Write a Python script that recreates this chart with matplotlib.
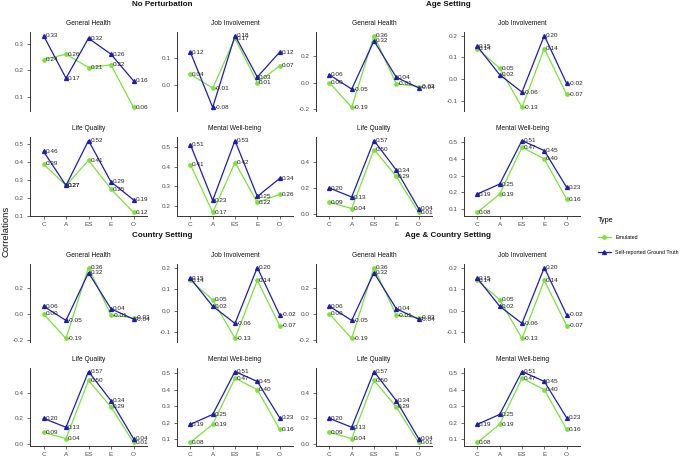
import matplotlib
matplotlib.use('Agg')
import matplotlib.pyplot as plt

plt.rcParams['font.family'] = ['Liberation Sans', 'DejaVu Sans']

traits = ['C', 'A', 'ES', 'E', 'O']
groups = ['No Perturbation', 'Age Setting', 'Country Setting', 'Age & Country Setting']
outcomes = ['General Health', 'Job Involvement', 'Life Quality', 'Mental Well-being']
series_names = ['Emulated', 'Self-reported Ground Truth']

# ---- No Perturbation ----
nop_emul_gh = [0.24, 0.26, 0.21, 0.22, 0.06]
nop_true_gh = [0.33, 0.17, 0.32, 0.26, 0.16]
nop_emul_ji = [0.04, -0.01, 0.17, 0.01, 0.07]
nop_true_ji = [0.12, -0.08, 0.18, 0.03, 0.12]
nop_emul_lq = [0.39, 0.27, 0.41, 0.25, 0.12]
nop_true_lq = [0.46, 0.27, 0.52, 0.29, 0.19]
nop_emul_mw = [0.41, 0.17, 0.42, 0.22, 0.26]
nop_true_mw = [0.51, 0.23, 0.53, 0.25, 0.34]

# ---- Age Setting ----
age_emul_gh = [0.00, -0.19, 0.36, -0.01, -0.03]
age_true_gh = [0.06, -0.05, 0.32, 0.04, -0.04]
age_emul_ji = [0.14, 0.05, -0.13, 0.14, -0.07]
age_true_ji = [0.15, 0.02, -0.06, 0.20, -0.02]
age_emul_lq = [0.09, 0.04, 0.50, 0.29, 0.01]
age_true_lq = [0.20, 0.13, 0.57, 0.34, 0.04]
age_emul_mw = [0.08, 0.19, 0.47, 0.40, 0.16]
age_true_mw = [0.19, 0.25, 0.51, 0.45, 0.23]

# ---- Country Setting ----
cty_emul_gh = [0.00, -0.19, 0.36, -0.01, -0.03]
cty_true_gh = [0.06, -0.05, 0.32, 0.04, -0.04]
cty_emul_ji = [0.14, 0.05, -0.13, 0.14, -0.07]
cty_true_ji = [0.15, 0.02, -0.06, 0.20, -0.02]
cty_emul_lq = [0.09, 0.04, 0.50, 0.29, 0.01]
cty_true_lq = [0.20, 0.13, 0.57, 0.34, 0.04]
cty_emul_mw = [0.08, 0.19, 0.47, 0.40, 0.16]
cty_true_mw = [0.19, 0.25, 0.51, 0.45, 0.23]

# ---- Age & Country Setting ----
ac_emul_gh = [0.00, -0.19, 0.36, -0.01, -0.03]
ac_true_gh = [0.06, -0.05, 0.32, 0.04, -0.04]
ac_emul_ji = [0.14, 0.05, -0.13, 0.14, -0.07]
ac_true_ji = [0.15, 0.02, -0.06, 0.20, -0.02]
ac_emul_lq = [0.09, 0.04, 0.50, 0.29, 0.01]
ac_true_lq = [0.20, 0.13, 0.57, 0.34, 0.04]
ac_emul_mw = [0.08, 0.19, 0.47, 0.40, 0.16]
ac_true_mw = [0.19, 0.25, 0.51, 0.45, 0.23]

# y tick values per group / outcome
nop_ticks = [[0.1, 0.2, 0.3], [0.0, 0.1], [0.1, 0.2, 0.3, 0.4, 0.5], [0.2, 0.3, 0.4, 0.5]]
set_ticks = [[-0.2, 0.0, 0.2], [-0.1, 0.0, 0.1, 0.2], [0.0, 0.2, 0.4], [0.1, 0.2, 0.3, 0.4, 0.5]]

data = {
    'No Perturbation': [(nop_emul_gh, nop_true_gh), (nop_emul_ji, nop_true_ji),
                        (nop_emul_lq, nop_true_lq), (nop_emul_mw, nop_true_mw)],
    'Age Setting': [(age_emul_gh, age_true_gh), (age_emul_ji, age_true_ji),
                    (age_emul_lq, age_true_lq), (age_emul_mw, age_true_mw)],
    'Country Setting': [(cty_emul_gh, cty_true_gh), (cty_emul_ji, cty_true_ji),
                        (cty_emul_lq, cty_true_lq), (cty_emul_mw, cty_true_mw)],
    'Age & Country Setting': [(ac_emul_gh, ac_true_gh), (ac_emul_ji, ac_true_ji),
                              (ac_emul_lq, ac_true_lq), (ac_emul_mw, ac_true_mw)],
}
ticks = {'No Perturbation': nop_ticks, 'Age Setting': set_ticks,
         'Country Setting': set_ticks, 'Age & Country Setting': set_ticks}

GREEN = '#7DE040'
BLUE = '#1E1EA8'
AXC = '#333333'
TXT = '#4D4D4D'

W, H = 685, 462
fig = plt.figure(figsize=(W / 100, H / 100), dpi=100)


def rect(x0, y0, x1, y1):
    return [x0 / W, 1 - y1 / H, (x1 - x0) / W, (y1 - y0) / H]


cols = [(30, 147), (177, 293), (316, 432), (464, 580)]
rows = [(32, 111), (137, 216), (264, 342), (368, 446)]
group_pos = {'No Perturbation': (0, 0), 'Age Setting': (0, 2),
             'Country Setting': (2, 0), 'Age & Country Setting': (2, 2)}
title_xy = {'No Perturbation': (162, 5), 'Age Setting': (448, 5),
            'Country Setting': (162, 235), 'Age & Country Setting': (448, 235)}

FS_TICK = 4.6
FS_LAB = 4.6
FS_TITLE = 4.8
FS_GROUP = 5.8

xs = list(range(len(traits)))
handles = None
for g in groups:
    r0, c0 = group_pos[g]
    for k, outc in enumerate(outcomes):
        r = r0 + k // 2
        c = c0 + k % 2
        x0, x1 = cols[c]
        y0, y1 = rows[r]
        ax = fig.add_axes(rect(x0, y0, x1, y1))
        emul, true = data[g][k]
        h1, = ax.plot(xs, emul, color=GREEN, lw=0.9, marker='o', ms=2.4, mec=GREEN, mfc=GREEN)
        h2, = ax.plot(xs, true, color=BLUE, lw=0.9, marker='^', ms=2.8, mec=BLUE, mfc=BLUE)
        if handles is None:
            handles = [h1, h2]
        for ser in (emul, true):
            for xi, v in zip(xs, ser):
                ax.annotate('%.2f' % v, (xi, v), xytext=(1.3, 0), textcoords='offset points',
                            ha='left', va='center', fontsize=FS_LAB, color='#222222')
        allv = list(emul) + list(true)
        lo, hi = min(allv), max(allv)
        pad = (hi - lo) * 0.05
        ax.set_ylim(lo - pad, hi + pad)
        ax.set_xlim(-0.6, len(traits) - 0.4)
        ax.set_yticks(ticks[g][k])
        ax.set_yticklabels(['%.1f' % t for t in ticks[g][k]])
        ax.set_title(outc, fontsize=FS_TITLE, pad=5.2, color='#111111')
        for s in ('top', 'right'):
            ax.spines[s].set_visible(False)
        ax.spines['left'].set_color(AXC)
        ax.spines['left'].set_linewidth(0.7)
        ax.tick_params(axis='y', length=2, width=0.5, color=AXC, labelsize=FS_TICK,
                       labelcolor=TXT, pad=2.5)
        if k < 2:
            ax.spines['bottom'].set_visible(False)
            ax.set_xticks([])
        else:
            ax.spines['bottom'].set_color(AXC)
            ax.spines['bottom'].set_linewidth(0.7)
            ax.set_xticks(xs)
            ax.set_xticklabels(traits)
            ax.tick_params(axis='x', length=2, width=0.5, color=AXC, labelsize=FS_TICK,
                           labelcolor=TXT, pad=2.5)
        ax.patch.set_alpha(0)
    tx, ty = title_xy[g]
    fig.text(tx / W, 1 - ty / H, g, ha='center', va='center', fontsize=FS_GROUP,
             fontweight='bold', color='#111111')

fig.text(6 / W, 1 - 231 / H, 'Correlations', rotation=90, ha='center', va='center',
         fontsize=6.8, color='#111111')

leg = fig.legend(handles, series_names, loc='upper left',
                 bbox_to_anchor=(598 / W, 1 - 217 / H), frameon=False, title='Type',
                 fontsize=3.8, title_fontsize=5.2, handlelength=2.4, handletextpad=0.9,
                 labelspacing=2.0, borderaxespad=0, borderpad=0)
leg._legend_box.align = 'left'

fig.savefig('out.png', dpi=100)
